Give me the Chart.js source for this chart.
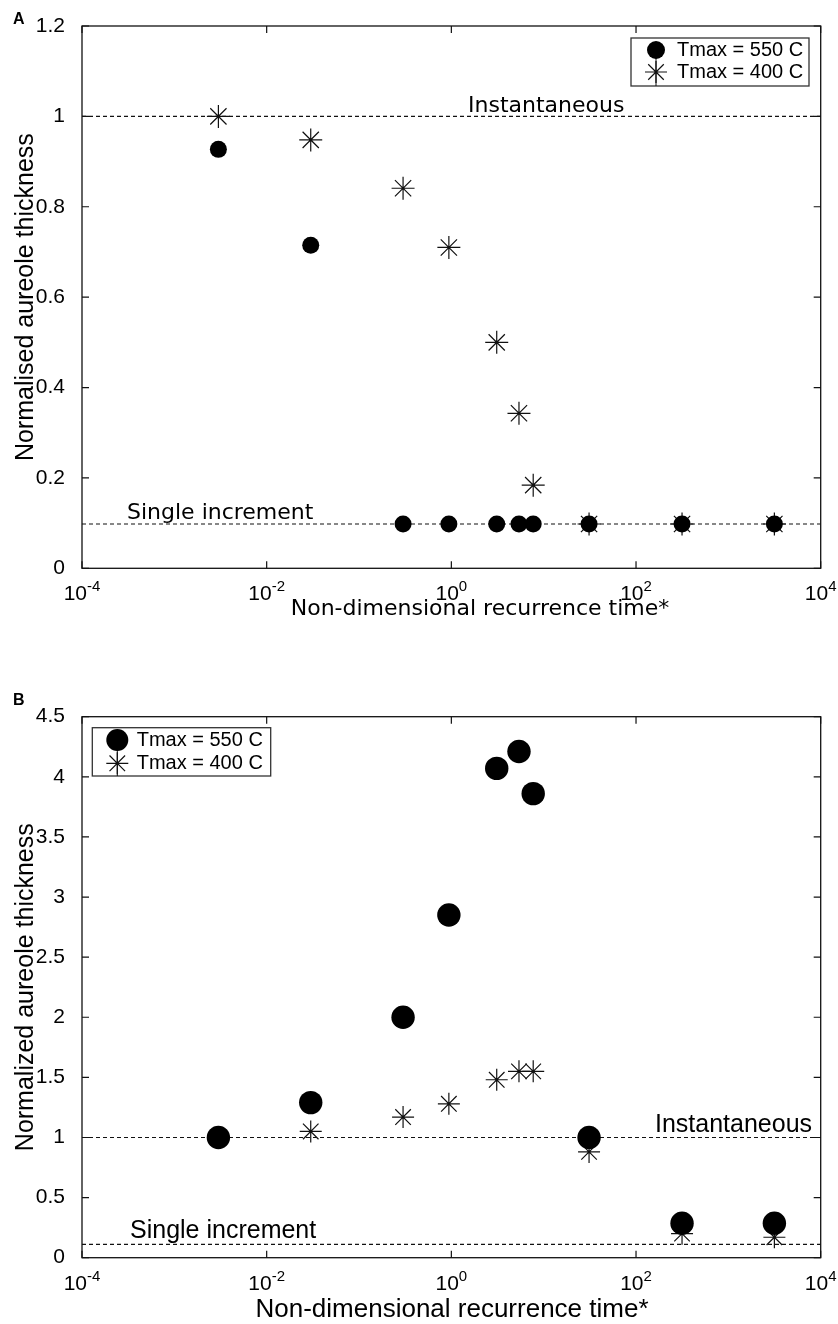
<!DOCTYPE html>
<html>
<head>
<meta charset="utf-8">
<script src="https://cdn.jsdelivr.net/npm/chart.js@4.4.1/dist/chart.umd.min.js"></script>
<style>
  html, body { margin: 0; padding: 0; background: #fff; }
  canvas { position: absolute; left: 0; }
</style>
</head>
<body>
<canvas id="chartA" width="838" height="650" style="top:0"></canvas>
<canvas id="chartB" width="838" height="674" style="top:650px"></canvas>
<script>
// non-dimensional recurrence times (shared by both panels)
const recurrence = [0.003, 0.03, 0.3, 0.94, 3.1, 5.4, 7.7, 31, 315, 3150];

// panel A - normalised aureole thickness
const hot550A  = [0.927, 0.715, 0.098, 0.098, 0.098, 0.098, 0.098, 0.098, 0.098, 0.098];
const cool400A = [1.0, 0.948, 0.841, 0.710, 0.500, 0.343, 0.184, 0.098, 0.098, 0.098];
const instantA = 1;
const singleA = 0.098;

// panel B - normalized aureole thickness
const hot550B  = [1.0, 1.29, 2.0, 2.85, 4.07, 4.21, 3.86, 1.0, 0.286, 0.286];
const cool400B = [1.0, 1.05, 1.17, 1.28, 1.48, 1.55, 1.55, 0.88, 0.20, 0.17];
const instantB = 1;
const singleB = 0.111;

// axes
const xTickValues = [1e-4, 1e-2, 1, 1e2, 1e4];
const xTickExp = ["-4", "-2", "0", "2", "4"];
const seriesNames = ["Tmax = 550 C", "Tmax = 400 C"];

const INK = "#111";

function pts(arr) {
    return recurrence.map((x, i) => ({ x: x, y: arr[i] }));
}
function hline(v) {
    return [{ x: xTickValues[0], y: v }, { x: xTickValues[xTickValues.length - 1], y: v }];
}

function drawStar(ctx, x, y, r) {
    ctx.beginPath();
    for (let k = 0; k < 4; k++) {
        const a = k * Math.PI / 4;
        ctx.moveTo(x - Math.cos(a) * r, y - Math.sin(a) * r);
        ctx.lineTo(x + Math.cos(a) * r, y + Math.sin(a) * r);
    }
    ctx.stroke();
}

// draws frame, inward ticks, x labels, titles, line labels and legend
function panelPlugin(p) {
    return {
        id: "panel" + p.letter,
        afterDraw(chart) {
            const ctx = chart.ctx;
            const a = chart.chartArea;
            const xs = chart.scales.x, ys = chart.scales.y;
            ctx.save();
            ctx.strokeStyle = INK;
            ctx.fillStyle = "#000";
            ctx.lineWidth = 1.3;
            ctx.strokeRect(a.left, a.top, a.right - a.left, a.bottom - a.top);

            // ticks on all four sides, pointing in
            ctx.lineWidth = 1.2;
            ctx.beginPath();
            xTickValues.forEach(v => {
                const px = xs.getPixelForValue(v);
                ctx.moveTo(px, a.bottom); ctx.lineTo(px, a.bottom - 7);
                ctx.moveTo(px, a.top); ctx.lineTo(px, a.top + 7);
            });
            ys.ticks.forEach(t => {
                const py = ys.getPixelForValue(t.value);
                ctx.moveTo(a.left, py); ctx.lineTo(a.left + 7, py);
                ctx.moveTo(a.right, py); ctx.lineTo(a.right - 7, py);
            });
            ctx.stroke();

            // x tick labels 10^n
            ctx.textBaseline = "alphabetic";
            ctx.textAlign = "left";
            const baseFont = '21px "Liberation Sans"', expFont = '15px "Liberation Sans"';
            xTickValues.forEach((v, i) => {
                const px = xs.getPixelForValue(v);
                ctx.font = baseFont;
                const wb = ctx.measureText("10").width;
                ctx.font = expFont;
                const we = ctx.measureText(xTickExp[i]).width;
                const x0 = px - (wb + we) / 2;
                ctx.font = baseFont;
                ctx.fillText("10", x0, a.bottom + 32);
                ctx.font = expFont;
                ctx.fillText(xTickExp[i], x0 + wb, a.bottom + 23);
            });

            // axis titles
            ctx.font = p.xTitleFont;
            ctx.textAlign = "center";
            ctx.fillText("Non-dimensional recurrence time*", p.xTitleX, p.xTitleY);
            ctx.save();
            ctx.translate(p.yTitleX, (a.top + a.bottom) / 2);
            ctx.rotate(-Math.PI / 2);
            ctx.font = '25px "Liberation Sans"';
            ctx.fillText(p.yTitle, 0, 0);
            ctx.restore();

            // panel letter
            ctx.font = 'bold 16px "Liberation Sans"';
            ctx.textAlign = "left";
            ctx.fillText(p.letter, 13, p.letterY);

            // labels on the reference lines
            ctx.font = p.lineFont;
            p.lineLabels.forEach(l => {
                ctx.fillText(l.text, l.x, ys.getPixelForValue(l.value) + l.dy);
            });

            // legend box
            const L = p.legend;
            ctx.fillStyle = "#fff";
            ctx.fillRect(L.x, L.y, L.w, L.h);
            ctx.strokeStyle = "#333";
            ctx.lineWidth = 1.3;
            ctx.strokeRect(L.x, L.y, L.w, L.h);
            const mx = L.x + L.mx;
            ctx.strokeStyle = INK;
            ctx.lineWidth = 1;
            ctx.beginPath();
            ctx.moveTo(mx, L.y + L.r1); ctx.lineTo(mx, L.y + L.h);
            ctx.stroke();
            ctx.fillStyle = "#000";
            ctx.beginPath();
            ctx.arc(mx, L.y + L.r1, L.cr, 0, Math.PI * 2);
            ctx.fill();
            ctx.lineWidth = 1.2;
            drawStar(ctx, mx, L.y + L.r2, L.sr);
            ctx.font = '20px "Liberation Sans"';
            ctx.textBaseline = "middle";
            ctx.fillText(seriesNames[0], L.x + L.tx, L.y + L.r1);
            ctx.fillText(seriesNames[1], L.x + L.tx, L.y + L.r2);
            ctx.restore();
        }
    };
}

function makeChart(id, p) {
    const H = document.getElementById(id).height;
    return new Chart(document.getElementById(id), {
        type: "scatter",
        data: {
            datasets: [
                {
                    data: pts(p.hot), pointStyle: "circle", pointRadius: p.circleR,
                    backgroundColor: "#000", borderWidth: 0
                },
                {
                    data: pts(p.cool), pointStyle: "star", pointRadius: p.starR,
                    borderColor: INK, borderWidth: 1.2, backgroundColor: "rgba(0,0,0,0)"
                },
                {
                    data: hline(p.instant), showLine: true, pointRadius: 0,
                    borderColor: INK, borderWidth: 1.2, borderDash: [4, 3]
                },
                {
                    data: hline(p.single), showLine: true, pointRadius: 0,
                    borderColor: INK, borderWidth: 1.2, borderDash: [4, 3]
                }
            ]
        },
        options: {
            responsive: false,
            animation: false,
            layout: { padding: { left: 0, top: p.area.top, right: 838 - p.area.right, bottom: 0 } },
            plugins: { legend: { display: false }, tooltip: { enabled: false } },
            scales: {
                x: {
                    type: "logarithmic", min: xTickValues[0], max: xTickValues[xTickValues.length - 1],
                    grid: { display: false }, border: { display: false }, ticks: { display: false },
                    afterBuildTicks: s => { s.ticks = xTickValues.map(v => ({ value: v })); },
                    afterFit: s => { s.height = H - p.area.bottom; }
                },
                y: {
                    min: 0, max: p.yMax,
                    grid: { display: false }, border: { display: false },
                    ticks: { stepSize: p.yStep, color: "#000", padding: 9,
                             font: { family: "Liberation Sans", size: 21 },
                             callback: v => String(Math.round(v * 10) / 10) },
                    afterFit: s => { s.width = p.area.left; }
                }
            }
        },
        plugins: [panelPlugin(p)]
    });
}

makeChart("chartA", {
    letter: "A", letterY: 24,
    hot: hot550A, cool: cool400A, instant: instantA, single: singleA,
    yMax: 1.2, yStep: 0.2,
    circleR: 8.5, starR: 11.5,
    area: { left: 82, top: 26, right: 820.7, bottom: 568.3 },
    yTitle: "Normalised aureole thickness", yTitleX: 33,
    xTitleFont: '22px "DejaVu Sans"', xTitleX: 480, xTitleY: 615,
    lineFont: '22px "DejaVu Sans"',
    lineLabels: [
        { text: "Instantaneous", x: 468, value: instantA, dy: -4 },
        { text: "Single increment", x: 127, value: singleA, dy: -5 }
    ],
    legend: { x: 631, y: 38, w: 178, h: 48, mx: 25, r1: 12, r2: 34, tx: 46, cr: 9, sr: 11 }
});

makeChart("chartB", {
    letter: "B", letterY: 55,
    hot: hot550B, cool: cool400B, instant: instantB, single: singleB,
    yMax: 4.5, yStep: 0.5,
    circleR: 11.7, starR: 11,
    area: { left: 82, top: 66.7, right: 820.7, bottom: 607.7 },
    yTitle: "Normalized aureole thickness", yTitleX: 33,
    xTitleFont: '26px "Liberation Sans"', xTitleX: 452, xTitleY: 666.7,
    lineFont: '25px "Liberation Sans"',
    lineLabels: [
        { text: "Instantaneous", x: 655, value: instantB, dy: -5 },
        { text: "Single increment", x: 130, value: singleB, dy: -6 }
    ],
    legend: { x: 92.3, y: 77.7, w: 178.4, h: 48.3, mx: 25, r1: 12.3, r2: 35.6, tx: 44.4, cr: 11, sr: 11 }
});
</script>
</body>
</html>
